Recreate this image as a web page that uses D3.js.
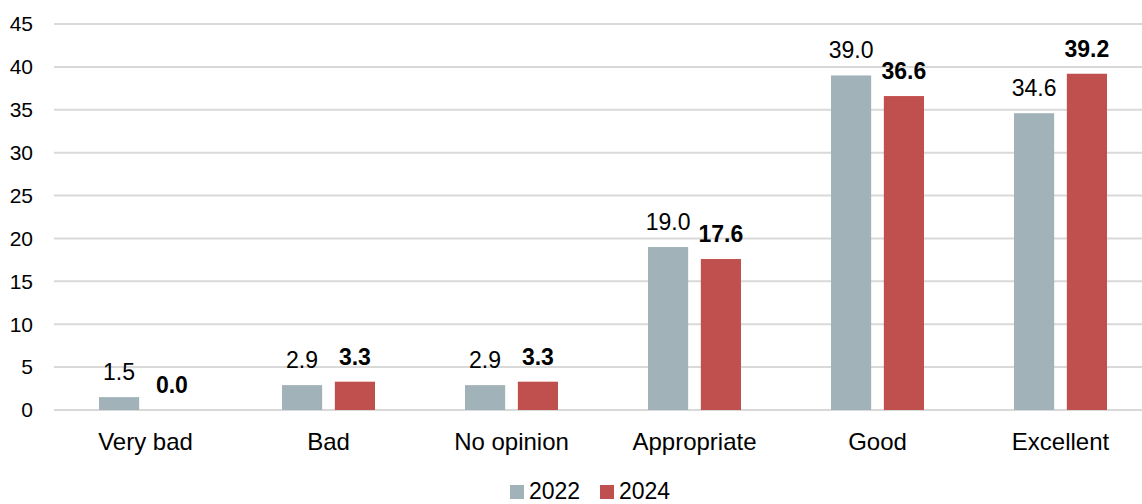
<!DOCTYPE html>
<html>
<head>
<meta charset="utf-8">
<script src="https://cdn.jsdelivr.net/npm/d3@7"></script>
<style>
  body { margin: 0; background: #fff; }
  text { font-family: "Liberation Sans", Arial, sans-serif; fill: #000; }
</style>
</head>
<body>
<div id="chart"></div>
<script>
const categories = ['Very bad', 'Bad', 'No opinion', 'Appropriate', 'Good', 'Excellent'];
const seriesNames = ['2022', '2024'];
const values2022 = [1.5, 2.9, 2.9, 19.0, 39.0, 34.6];
const values2024 = [0.0, 3.3, 3.3, 17.6, 36.6, 39.2];
const yTicks = [0, 5, 10, 15, 20, 25, 30, 35, 40, 45];

const colors = { '2022': '#a1b2b9', '2024': '#c0504d' };

const width = 1142, height = 504;
const margin = { top: 24, right: 0, bottom: 94, left: 54 };
const innerW = width - margin.left - margin.right;
const innerH = height - margin.top - margin.bottom;

const svg = d3.select('#chart').append('svg')
  .attr('width', width)
  .attr('height', height);

const g = svg.append('g')
  .attr('transform', 'translate(' + margin.left + ',' + margin.top + ')');

// plot area runs a bit past the right edge (cropped original)
const x0 = d3.scaleBand()
  .domain(categories)
  .range([0, 1098]);

const x1 = d3.scaleBand()
  .domain(seriesNames)
  .range([x0.bandwidth() / 2 - 46.5, x0.bandwidth() / 2 + 46.5])
  .paddingInner(0.24)
  .paddingOuter(0);

const y = d3.scaleLinear()
  .domain([0, 45])
  .range([innerH, 0]);

// gridlines
g.selectAll('.grid')
  .data(yTicks)
  .enter()
  .append('line')
  .attr('x1', 0)
  .attr('x2', innerW)
  .attr('y1', d => y(d))
  .attr('y2', d => y(d))
  .attr('stroke', '#d9d9d9')
  .attr('stroke-width', 2);

// y tick labels
g.selectAll('.ytick')
  .data(yTicks)
  .enter()
  .append('text')
  .attr('x', -21)
  .attr('y', d => y(d))
  .attr('dy', '0.35em')
  .attr('text-anchor', 'end')
  .attr('font-size', '21px')
  .text(d => d);

// x labels
g.selectAll('.xlabel')
  .data(categories)
  .enter()
  .append('text')
  .attr('x', d => x0(d) + x0.bandwidth() / 2)
  .attr('y', innerH + 40)
  .attr('text-anchor', 'middle')
  .attr('font-size', '24px')
  .text(d => d);

const rows = categories.map((c, i) => ({
  cat: c,
  vals: [
    { key: '2022', value: values2022[i] },
    { key: '2024', value: values2024[i] }
  ]
}));

const groups = g.selectAll('.grp')
  .data(rows)
  .enter()
  .append('g')
  .attr('transform', d => 'translate(' + x0(d.cat) + ',0)');

groups.selectAll('rect')
  .data(d => d.vals)
  .enter()
  .append('rect')
  .attr('x', d => x1(d.key))
  .attr('y', d => y(d.value))
  .attr('width', x1.bandwidth())
  .attr('height', d => innerH - y(d.value))
  .attr('fill', d => colors[d.key]);

groups.selectAll('.val')
  .data(d => d.vals)
  .enter()
  .append('text')
  .attr('x', d => x1(d.key) + x1.bandwidth() / 2)
  .attr('y', d => y(d.value) - 17)
  .attr('text-anchor', 'middle')
  .attr('font-size', '23px')
  .attr('font-weight', d => d.key === '2024' ? 'bold' : 'normal')
  .text(d => d3.format('.1f')(d.value));

// legend
const legend = svg.append('g')
  .attr('transform', 'translate(510, 485)');

const items = legend.selectAll('.item')
  .data(seriesNames)
  .enter()
  .append('g')
  .attr('transform', (d, i) => 'translate(' + (i * 90) + ',0)');

items.append('rect')
  .attr('width', 14)
  .attr('height', 14)
  .attr('fill', d => colors[d]);

items.append('text')
  .attr('x', 19)
  .attr('y', 14)
  .attr('font-size', '23px')
  .text(d => d);
</script>
</body>
</html>
